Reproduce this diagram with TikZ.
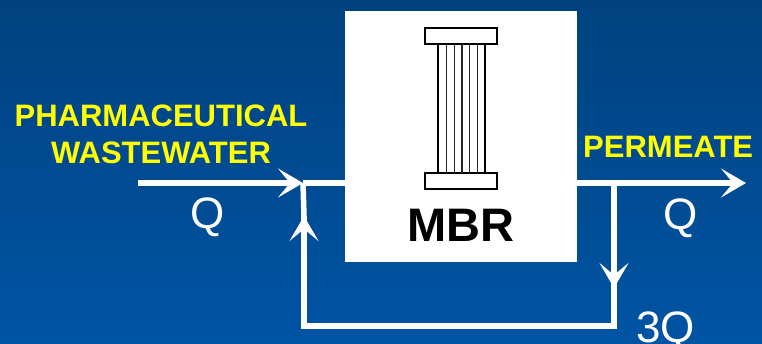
\documentclass[tikz,border=0pt]{standalone}
\usepackage{fontspec}
\setmainfont{Liberation Sans}
\usetikzlibrary{arrows.meta}
\definecolor{bgtop}{HTML}{00427F}
\definecolor{bgbot}{HTML}{0054A4}
\definecolor{ylw}{HTML}{FFFF00}
\tikzset{
  flow/.style={draw=white,line width=5.5pt},
  flowarrow/.style={flow,-{Stealth[length=25pt,width=29pt,inset=12pt,color=white]}},
  hdr/.style={left color=white,fill=white,draw=black,line width=1.6pt},
  fibre/.style={draw=black!85,line width=1.2pt},
  wall/.style={draw=black,line width=1.7pt},
  qlabel/.style={text=white,inner sep=0pt,font=\fontsize{44}{44}\selectfont},
  ylabel/.style={text=ylw,inner sep=0pt,align=center,font=\fontsize{31}{37}\selectfont\bfseries},
}
\begin{document}
\begin{tikzpicture}[x=1pt,y=-1pt]
\useasboundingbox (0,0) rectangle (762,343);
\clip (0,0) rectangle (762,343);
\shade[top color=bgtop,bottom color=bgbot] (0,0) rectangle (762,343);
% junctions and free ends
\coordinate (inlet) at (138,183);
\coordinate (joinin) at (303,183);
\coordinate (splitout) at (614,183);
\coordinate (outlet) at (746,183);
\coordinate (botl) at (304,326);
\coordinate (botr) at (614,326);
\coordinate (uptip) at (304,216);
\coordinate (downtip) at (614,288);
% box
\node[fill=white,minimum width=232pt,minimum height=251pt,inner sep=0pt,anchor=north west] (mbr) at (344.5,11) {};
% connectors
\draw[flow] (joinin) -- (mbr.west |- joinin);
\draw[flow] (mbr.east |- splitout) -- (splitout);
\draw[flowarrow] (splitout) -- (outlet);
\draw[flowarrow] (inlet) -- (joinin);
\draw[flow] (splitout) -- (downtip);
\draw[flowarrow] (splitout) -- (downtip);
\draw[flow,line join=miter] (downtip) -- (botr) -- (botl) -- (uptip);
\draw[flowarrow] (botl) -- (uptip);
\draw[flow] (uptip) -- (joinin);
% module
\node[draw=black,line width=1.7pt,fill=white,minimum width=72pt,minimum height=16pt,inner sep=0pt] (cap1) at (461,36) {};
\node[draw=black,line width=1.7pt,fill=white,minimum width=72pt,minimum height=16pt,inner sep=0pt] (cap2) at (461,181) {};
\foreach \x in {446.5,454.3,462,469.7,477.3}
  \draw[fibre] (\x,44) -- (\x,173);
\draw[wall] (438,44) -- (438,173);
\draw[wall] (485,44) -- (485,173);
% labels
\node[inner sep=0pt,text=black,font=\fontsize{47}{47}\selectfont\bfseries] (mbrlabel) at (461,225) {MBR};
\node[ylabel] (feed) at (161,134) {PHARMACEUTICAL\\WASTEWATER};
\node[ylabel,anchor=west] (perm) at (583,147) {PERMEATE};
\node[qlabel] (q1) at (207.5,217) {Q};
\node[qlabel] (q2) at (681,218) {Q};
\node[qlabel,anchor=base west] (q3) at (636,342) {3Q};
\end{tikzpicture}
\end{document}
